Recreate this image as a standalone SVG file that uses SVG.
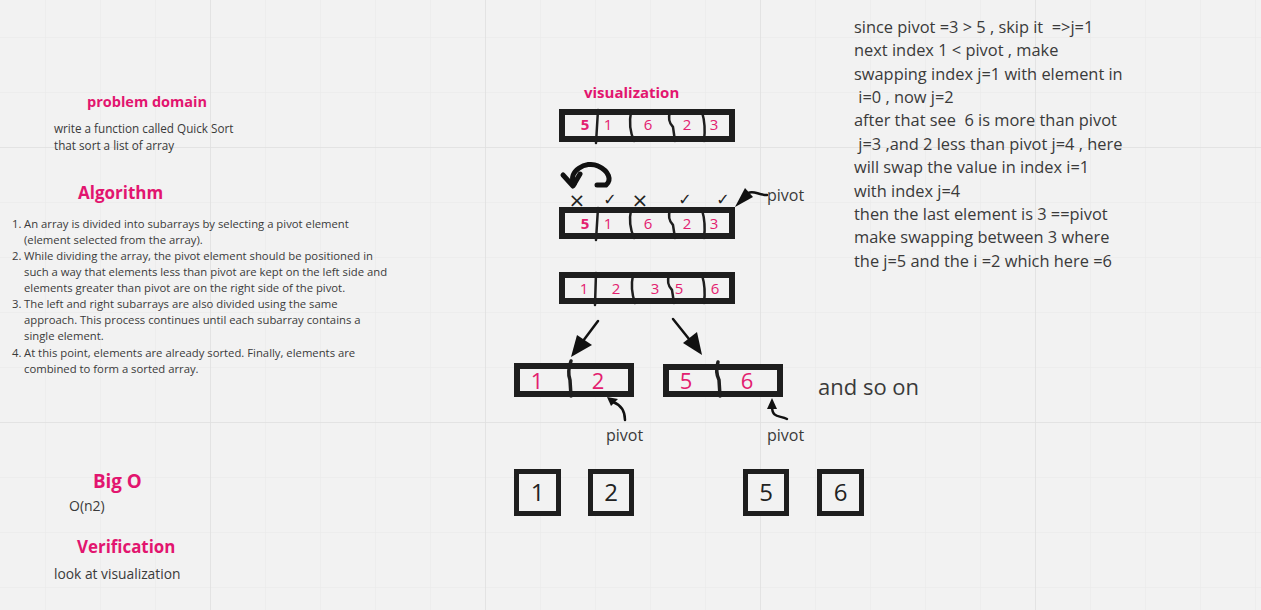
<svg xmlns="http://www.w3.org/2000/svg" width="1261" height="610" viewBox="0 0 1261 610">
<defs>
<pattern id="minor" width="55" height="55" x="45" y="37" patternUnits="userSpaceOnUse"><path d="M0,0V55M0,0H55" fill="none" stroke="#e8e8e8" stroke-width="1"/></pattern>
<pattern id="major" width="275" height="275" x="210" y="147" patternUnits="userSpaceOnUse"><path d="M0,0V275M0,0H275" fill="none" stroke="#dfdfdf" stroke-width="1.5"/></pattern>
<style>
.h{font-family:"Open Sans","Liberation Sans",sans-serif;font-weight:700;fill:#e2156f}
.b{font-family:"Open Sans","Liberation Sans",sans-serif;fill:#3a3a3a}
.d{font-family:"Open Sans","Liberation Sans",sans-serif;fill:#e3206f;text-anchor:middle}
.k{font-family:"Open Sans","Liberation Sans",sans-serif;fill:#222;text-anchor:middle;font-size:24px}
.m{font-family:"DejaVu Sans",sans-serif;fill:#222;text-anchor:middle}
.pre{white-space:pre}
.box{fill:#f2f2f2;stroke:#1e1e1e;stroke-width:6}
.sq{fill:#f2f2f2;stroke:#1e1e1e;stroke-width:5}
.dv{fill:none;stroke:#1e1e1e;stroke-width:2.5;stroke-linecap:round}
.ln{fill:none;stroke:#111;stroke-width:2.5;stroke-linecap:round}
.hd{fill:#111}
</style>
</defs>
<rect width="1261" height="610" fill="#f2f2f2"/>
<rect width="1261" height="610" fill="url(#minor)"/>
<rect width="1261" height="610" fill="url(#major)"/>

<g id="problem-domain">
<text class="h" x="87" y="107" font-size="14.5">problem domain</text>
<text class="b" x="54" y="133" font-size="11.7">write a function called Quick Sort</text>
<text class="b" x="54" y="150" font-size="11.7">that sort a list of array</text>
</g>

<g id="algorithm" class="b" font-size="11.3">
<text class="h" x="78" y="199" font-size="17">Algorithm</text>
<text x="12" y="228">1.</text><text x="24" y="228">An array is divided into subarrays by selecting a pivot element</text>
<text x="24" y="244">(element selected from the array).</text>
<text x="12" y="260">2.</text><text x="24" y="260">While dividing the array, the pivot element should be positioned in</text>
<text x="24" y="276">such a way that elements less than pivot are kept on the left side and</text>
<text x="24" y="292">elements greater than pivot are on the right side of the pivot.</text>
<text x="12" y="308">3.</text><text x="24" y="308">The left and right subarrays are also divided using the same</text>
<text x="24" y="324">approach. This process continues until each subarray contains a</text>
<text x="24" y="340">single element.</text>
<text x="12" y="357">4.</text><text x="24" y="357">At this point, elements are already sorted. Finally, elements are</text>
<text x="24" y="373">combined to form a sorted array.</text>
</g>

<g id="big-o">
<text class="h" x="93" y="488" font-size="18.8">Big O</text>
<text class="b" x="69" y="511" font-size="14">O(n2)</text>
</g>

<g id="verification">
<text class="h" x="77" y="553" font-size="16.9">Verification</text>
<text class="b" x="54" y="579" font-size="13.8">look at visualization</text>
</g>

<g id="explanation" class="b pre" font-size="16.4">
<text x="854" y="33" xml:space="preserve">since pivot =3 &gt; 5 , skip it  =&gt;j=1</text>
<text x="854" y="56">next index 1 &lt; pivot , make</text>
<text x="854" y="80">swapping index j=1 with element in</text>
<text x="854" y="103" xml:space="preserve"> i=0 , now j=2</text>
<text x="854" y="126" xml:space="preserve">after that see  6 is more than pivot</text>
<text x="854" y="150" xml:space="preserve"> j=3 ,and 2 less than pivot j=4 , here</text>
<text x="854" y="173">will swap the value in index i=1</text>
<text x="854" y="197">with index j=4</text>
<text x="854" y="220">then the last element is 3 ==pivot</text>
<text x="854" y="243">make swapping between 3 where</text>
<text x="854" y="267">the j=5 and the i =2 which here =6</text>
</g>

<g id="visualization-title">
<text class="h" x="584" y="98" font-size="15">visualization</text>
</g>

<g id="array-1">
<rect class="box" x="562" y="112" width="170" height="27"/>
<path class="dv" d="M598,110 L596,143"/>
<path class="dv" d="M631,112 Q628,127 634,141"/>
<path class="dv" d="M670,112 Q667,121 673,127 L675,141"/>
<path class="dv" d="M702,112 Q706,125 704,141"/>
<g class="d" font-size="15"><text x="585" y="130" font-weight="700">5</text><text x="608" y="130">1</text><text x="648" y="130">6</text><text x="687" y="130">2</text><text x="714" y="130">3</text></g>
</g>

<g id="swap-marks">
<path d="M574,184 C567,172 586,160 598,166 C609,171 612,180 606,185 L597,185" fill="none" stroke="#111" stroke-width="5" stroke-linecap="round" stroke-linejoin="round"/>
<path d="M563,175 L573,186 L580,174" fill="none" stroke="#111" stroke-width="5" stroke-linecap="round" stroke-linejoin="round"/>
<text class="m" x="577" y="207" font-size="20">×</text>
<text class="m" x="610" y="205" font-size="16">✓</text>
<text class="m" x="640" y="207" font-size="20">×</text>
<text class="m" x="685" y="205" font-size="16">✓</text>
<text class="m" x="723" y="205" font-size="16">✓</text>
</g>

<g id="array-2">
<rect class="box" x="562" y="210" width="170" height="26"/>
<path class="dv" d="M598,208 L596,240"/>
<path class="dv" d="M631,210 Q628,224 634,238"/>
<path class="dv" d="M670,210 Q667,219 673,225 L675,238"/>
<path class="dv" d="M702,210 Q706,223 704,238"/>
<g class="d" font-size="15"><text x="585" y="229" font-weight="700">5</text><text x="608" y="229">1</text><text x="648" y="229">6</text><text x="687" y="229">2</text><text x="714" y="229">3</text></g>
</g>

<g id="pivot-label-1">
<path d="M735,207 L745,188 L753,197 Z" class="hd"/>
<path class="ln" d="M748,193 C754,190 758,195 767,195" stroke-width="2"/>
<text class="b" x="767" y="201" font-size="16">pivot</text>
</g>

<g id="array-3">
<rect class="box" x="562" y="275" width="170" height="26"/>
<path class="dv" d="M596,273 L595,305"/>
<path class="dv" d="M633,275 Q630,289 635,303"/>
<path class="dv" d="M669,275 Q666,284 672,290 L674,303"/>
<path class="dv" d="M702,275 Q706,288 704,303"/>
<g class="d" font-size="15"><text x="584" y="294">1</text><text x="616" y="294">2</text><text x="655" y="294">3</text><text x="679" y="294">5</text><text x="715" y="294">6</text></g>
</g>

<g id="connectors">
<path class="ln" d="M598,321 L580,345"/>
<path class="hd" d="M571,357 L577,335 L592,345 Z"/>
<path class="ln" d="M673,319 L693,344"/>
<path class="hd" d="M702,355 L683,343 L697,332 Z"/>
<path class="ln" d="M625,420 C625,410 621,405 613,402" stroke-width="2"/>
<path class="hd" d="M607,397 L618,399 L611,406 Z"/>
<path class="ln" d="M787,419 C780,415 772,419 772,406" stroke-width="2"/>
<path class="hd" d="M772,398 L767,409 L777,409 Z"/>
</g>

<g id="subarray-left">
<rect class="box" x="517" y="366" width="114" height="28"/>
<path d="M571,361 Q567,372 570,380 L571,396" fill="none" stroke="#1e1e1e" stroke-width="3.5" stroke-linecap="round"/>
<g class="d" font-size="22"><text x="537" y="389">1</text><text x="598" y="389">2</text></g>
<text class="b" x="606" y="441" font-size="16">pivot</text>
</g>

<g id="subarray-right">
<rect class="box" x="666" y="367" width="114" height="27"/>
<path d="M718,362 Q715,372 719,380 L720,396" fill="none" stroke="#1e1e1e" stroke-width="3.5" stroke-linecap="round"/>
<g class="d" font-size="22"><text x="686" y="389">5</text><text x="747" y="389">6</text></g>
<text class="b" x="767" y="441" font-size="16">pivot</text>
</g>

<g id="and-so-on">
<text class="b" x="818" y="395" font-size="22">and so on</text>
</g>

<g id="single-1"><rect class="sq" x="516.5" y="471.5" width="42" height="42"/><text class="k" x="537.5" y="501">1</text></g>
<g id="single-2"><rect class="sq" x="590.5" y="471.5" width="41" height="42"/><text class="k" x="611" y="501">2</text></g>
<g id="single-5"><rect class="sq" x="745.5" y="471.5" width="41" height="42"/><text class="k" x="766" y="501">5</text></g>
<g id="single-6"><rect class="sq" x="819.5" y="471.5" width="42" height="42"/><text class="k" x="840.5" y="501">6</text></g>
</svg>
